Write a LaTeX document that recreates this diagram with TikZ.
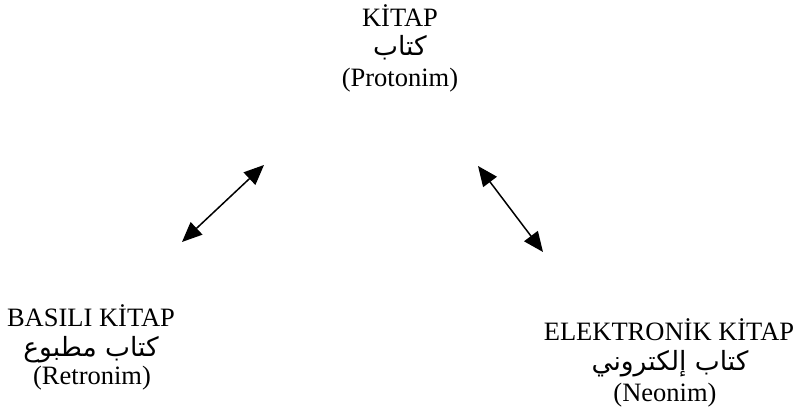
\documentclass[tikz,border=0pt]{standalone}
\usepackage{fontspec}
\setmainfont{Liberation Serif}
\newfontfamily\arabicfont[Script=Arabic]{DejaVu Sans}
\TeXXeTstate=1
\usetikzlibrary{arrows.meta}
\tikzset{
  latin/.style={anchor=base, inner sep=0pt, font=\fontsize{26.5}{31}\selectfont},
  arabic/.style={anchor=base, inner sep=0pt, font=\arabicfont\fontsize{26.5}{30}\selectfont},
  link/.style={line width=1.5pt, {Triangle[length=20pt,width=17pt]}-{Triangle[length=20pt,width=17pt]}}
}
\begin{document}
\begin{tikzpicture}[x=1pt,y=-1pt]
  \useasboundingbox (0,0) rectangle (801,419);
  % top: protonym
  \node[latin]  (top1) at (400,27) {KİTAP};
  \node[arabic] (top2) at (400,56) {\beginR كتاب\endR};
  \node[latin]  (top3) at (400,87) {(Protonim)};
  % left: retronym
  \node[latin]  (left1) at (91,327) {BASILI KİTAP};
  \node[arabic] (left2) at (91,357) {\beginR كتاب مطبوع\endR};
  \node[latin]  (left3) at (92,385) {(Retronim)};
  % right: neonym
  \node[latin]  (right1) at (669,341) {ELEKTRONİK KİTAP};
  \node[arabic] (right2) at (670,371) {\beginR كتاب إلكتروني\endR};
  \node[latin]  (right3) at (665,402) {(Neonim)};
  % links
  \coordinate (la) at (182,242);
  \coordinate (lb) at (264,165);
  \coordinate (ra) at (478,166);
  \coordinate (rb) at (543,252);
  \draw[link] (la) -- (lb);
  \draw[link] (ra) -- (rb);
\end{tikzpicture}
\end{document}
